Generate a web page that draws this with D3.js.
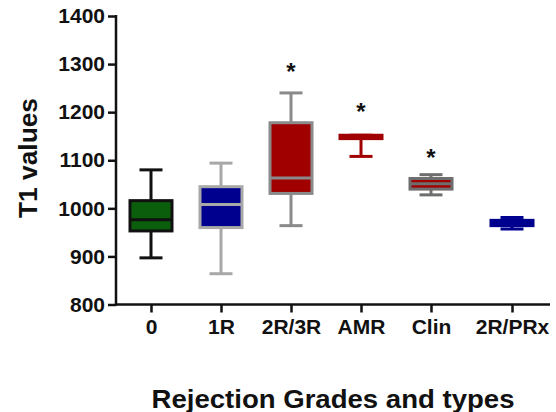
<!DOCTYPE html>
<html><head><meta charset="utf-8">
<script src="https://cdn.jsdelivr.net/npm/d3@7"></script>
<style>body{margin:0;background:#fff}svg{display:block}text{font-family:"Liberation Sans",Arial,sans-serif;font-weight:bold;fill:#111}</style>
</head><body><svg id="c" width="556" height="412"></svg>
<script>
const categories = ["0", "1R", "2R/3R", "AMR", "Clin", "2R/PRx"];
const whiskerLow = [897, 864, 964, 1108, 1028, 957];
const q1 = [953, 960, 1031, 1145, 1040, 964];
const median = [976, 1008, 1063, 1149, 1051, 970];
const q3 = [1016, 1045, 1178, 1152, 1062, 975];
const whiskerHigh = [1080, 1094, 1240, 1152, 1070, 981];
const significance = ["", "", "*", "*", "*", ""];
const starAt = [null, null, 1294, 1211, 1115, null];
const fillColors = ["#0b5e0b", "#00008e", "#a00000", "#a00000", "#a00000", "#00008e"];
const lineColors = ["#111111", "#a8a8a8", "#8a8a8a", "#a00000", "#6e6e6e", "#00008e"];
const yTicks = [800, 900, 1000, 1100, 1200, 1300, 1400];
const yTitle = "T1 values";
const xTitle = "Rejection Grades and types";

const svg = d3.select("#c");
const y = d3.scaleLinear().domain([800, 1400]).range([304.5, 16]);
const xp = d3.scalePoint().domain(categories).range([151, 501]);
const xPos = c => xp(c) + (c === "2R/PRx" ? 11 : 0);
const x = d3.scaleOrdinal().domain(categories).range(categories.map(xPos));
const boxW = 42, capW = 23, sw = 3;

const data = categories.map((c, i) => ({c, lo: whiskerLow[i], q1: q1[i], med: median[i], q3: q3[i], hi: whiskerHigh[i],
  sig: significance[i], star: starAt[i], fill: fillColors[i], line: lineColors[i]}));

// y axis
const yAxis = svg.append("g").attr("transform", "translate(116,0)")
  .call(d3.axisLeft(y).tickValues(yTicks).tickSize(8).tickPadding(3).tickFormat(d3.format("d")));
yAxis.select(".domain").remove();
yAxis.selectAll(".tick line").attr("stroke", "#111").attr("stroke-width", 2.5);
yAxis.selectAll(".tick text").attr("font-size", 21).attr("font-weight", "bold")
  .attr("font-family", '"Liberation Sans", Arial, sans-serif').attr("fill", "#111");

// x axis
const xAxis = svg.append("g").attr("transform", "translate(0,304.5)")
  .call(d3.axisBottom(x).tickSize(8).tickPadding(7));
xAxis.select(".domain").remove();
xAxis.selectAll(".tick line").attr("stroke", "#111").attr("stroke-width", 2.5);
xAxis.selectAll(".tick text").attr("font-size", 21).attr("font-weight", "bold")
  .attr("font-family", '"Liberation Sans", Arial, sans-serif').attr("fill", "#111");

// axis lines
svg.append("line").attr("x1", 116).attr("x2", 116).attr("y1", y(1400) - 1).attr("y2", y(800) + 1.25)
  .attr("stroke", "#111").attr("stroke-width", 2.5);
svg.append("line").attr("x1", 116).attr("x2", 550).attr("y1", y(800)).attr("y2", y(800))
  .attr("stroke", "#111").attr("stroke-width", 2.5);

// boxes
const g = svg.append("g").selectAll("g").data(data).join("g");
g.append("line").attr("x1", d => x(d.c)).attr("x2", d => x(d.c))
  .attr("y1", d => y(d.lo)).attr("y2", d => y(d.hi)).attr("stroke", d => d.line).attr("stroke-width", sw);
g.append("line").attr("x1", d => x(d.c) - capW / 2).attr("x2", d => x(d.c) + capW / 2)
  .attr("y1", d => y(d.lo)).attr("y2", d => y(d.lo)).attr("stroke", d => d.line).attr("stroke-width", sw);
g.append("line").attr("x1", d => x(d.c) - capW / 2).attr("x2", d => x(d.c) + capW / 2)
  .attr("y1", d => y(d.hi)).attr("y2", d => y(d.hi)).attr("stroke", d => d.line).attr("stroke-width", sw);
g.append("rect").attr("x", d => x(d.c) - boxW / 2).attr("width", boxW)
  .attr("y", d => y(d.q3)).attr("height", d => y(d.q1) - y(d.q3))
  .attr("fill", d => d.fill).attr("stroke", d => d.line).attr("stroke-width", sw);
g.append("line").attr("x1", d => x(d.c) - boxW / 2).attr("x2", d => x(d.c) + boxW / 2)
  .attr("y1", d => y(d.med)).attr("y2", d => y(d.med)).attr("stroke", d => d.line).attr("stroke-width", sw);

// significance stars
svg.append("g").selectAll("text").data(data.filter(d => d.sig)).join("text")
  .attr("x", d => x(d.c)).attr("y", d => y(d.star) + 13).attr("text-anchor", "middle")
  .attr("font-size", 24).text(d => d.sig);

// titles
svg.append("text").attr("transform", "translate(37,158) rotate(-90)").attr("text-anchor", "middle")
  .attr("font-size", 26).attr("textLength", 120).attr("lengthAdjust", "spacingAndGlyphs").text(yTitle);
svg.append("text").attr("x", 333).attr("y", 408).attr("text-anchor", "middle")
  .attr("font-size", 25).attr("textLength", 363).attr("lengthAdjust", "spacingAndGlyphs").text(xTitle);
</script>
</body></html>
